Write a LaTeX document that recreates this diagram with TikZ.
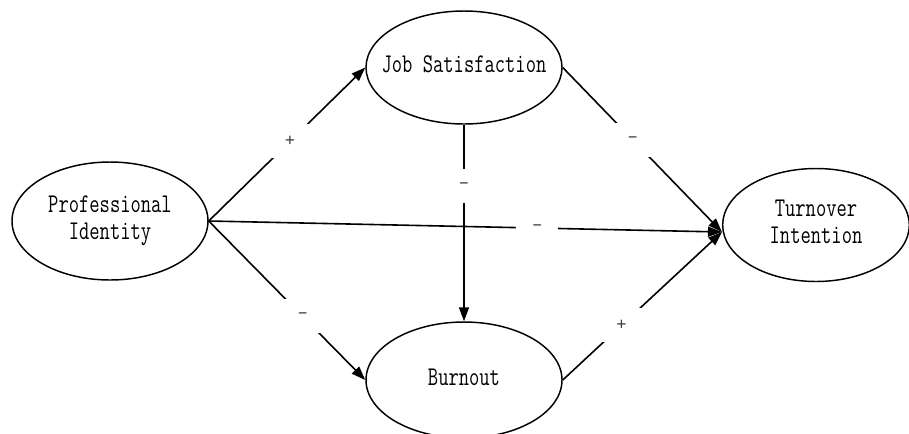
\documentclass[tikz,border=0pt]{standalone}
\usetikzlibrary{shapes.geometric,arrows.meta}
\newcommand\elbl[1]{\makebox[0pt]{\scalebox{1.02}[1.38]{\fontsize{14.7}{14.7}\selectfont\ttfamily\begin{tabular}{@{}c@{}}#1\end{tabular}}}}
\begin{document}
\begin{tikzpicture}[x=0.75pt,y=-0.75pt,
  ell/.style={draw, line width=1.1pt, ellipse, inner sep=0pt},
  conn/.style={line width=1.2pt, -{Triangle[length=10.5pt,width=7.5pt]}},
  sgn/.style={fill=white, inner sep=0pt, minimum width=31.5pt, minimum height=25.5pt,
    font=\ttfamily\fontsize{15}{15}\selectfont, text=black!75}]
\useasboundingbox[fill=white] (0,0) rectangle (909,433);
\node[ell, minimum width=147pt, minimum height=88.5pt] (pi) at (110,221) {\elbl{Professional\\Identity}};
\node[ell, minimum width=147pt, minimum height=84.75pt] (js) at (464,67.5) {\elbl{Job Satisfaction}};
\node[ell, minimum width=147pt, minimum height=87pt] (bo) at (464,380) {\elbl{Burnout}};
\node[ell, minimum width=140pt, minimum height=84.75pt] (ti) at (816,225) {\elbl{Turnover\\Intention}};
\draw[conn] (pi.east) -- node[sgn,pos=0.52]{+} (js.west);
\draw[conn] (pi.east) -- node[sgn,pos=0.64]{–} ([yshift=-5.25pt]ti.west);
\draw[conn] (pi.east) -- node[sgn,pos=0.6]{–} (bo.west);
\draw[conn] (js.south) -- node[sgn,pos=0.31]{–} (bo.north);
\draw[conn] (js.east) -- node[sgn,pos=0.44]{–} ([yshift=-5.25pt]ti.west);
\draw[conn] (bo.east) -- node[sgn,pos=0.37]{+} ([yshift=-5.25pt]ti.west);
\end{tikzpicture}
\end{document}
